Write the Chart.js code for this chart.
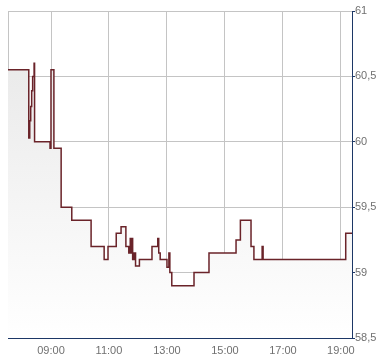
<!DOCTYPE html>
<html>
<head>
<meta charset="utf-8">
<title>Intraday</title>
<script src="https://cdn.jsdelivr.net/npm/chart.js@4.4.0/dist/chart.umd.min.js"></script>
<style>
    html, body { margin: 0; padding: 0; background: #ffffff; }
    #chartBox { width: 390px; height: 364px; }
</style>
</head>
<body>
<div id="chartBox"><canvas id="intradayChart" width="390" height="364"></canvas></div>
<script>
// DADOS
const horarios = ['07:31','08:14','08:16','08:18','08:20','08:22','08:25','08:26','08:58','09:00',
    '09:06','09:21','09:43','10:23','10:50','10:58','11:15','11:25','11:35','11:41',
    '11:44','11:45','11:48','11:49','11:52','11:55','12:03','12:29','12:41','12:43',
    '12:46','13:00','13:04','13:06','13:10','13:56','14:27','15:23','15:32','15:54',
    '16:00','16:17','16:19','19:10','19:23'];
const precos = [60.55, 60.03, 60.16, 60.27, 60.39, 60.5, 60.6, 60.0, 59.95, 60.55,
    59.95, 59.5, 59.4, 59.2, 59.1, 59.2, 59.3, 59.35, 59.2, 59.15,
    59.26, 59.15, 59.26, 59.1, 59.15, 59.05, 59.1, 59.2, 59.26, 59.15,
    59.1, 59.04, 59.15, 59.0, 58.9, 59.0, 59.15, 59.25, 59.4, 59.2,
    59.1, 59.2, 59.1, 59.3, 59.3];
const xTicks = ['09:00', '11:00', '13:00', '15:00', '17:00', '19:00'];
const xInicio = '07:31';
const xFim = '19:23';
const yTicks = [58.5, 59, 59.5, 60, 60.5, 61];

// "HH:MM" -> horas decimais
function toHours(hhmm) {
    const [h, m] = hhmm.split(':').map(Number);
    return h + m / 60;
}

function formatHour(v) {
    const h = Math.floor(v + 1e-6);
    const m = Math.round((v - h) * 60);
    return String(h).padStart(2, '0') + ':' + String(m).padStart(2, '0');
}

function fillGradient(context) {
    const area = context.chart.chartArea;
    if (!area) return '#eeeeee';
    const g = context.chart.ctx.createLinearGradient(0, area.top, 0, area.bottom);
    g.addColorStop(0, '#e6e6e6');
    g.addColorStop(1, '#ffffff');
    return g;
}

function createIntradayChart() {
    const ctx = document.getElementById('intradayChart').getContext('2d');
    const pontos = horarios.map((t, i) => ({ x: toHours(t), y: precos[i] }));
    const minX = toHours(xInicio);
    const maxX = toHours(xFim);

    window.intradayChartInstance = new Chart(ctx, {
        type: 'line',
        data: {
            datasets: [{
                data: pontos,
                stepped: true,
                borderColor: '#6a2329',
                borderWidth: 1.5,
                pointRadius: 0,
                tension: 0,
                fill: 'start',
                backgroundColor: fillGradient
            }]
        },
        options: {
            responsive: false,
            animation: false,
            devicePixelRatio: 1,
            layout: { padding: { left: 8, top: 11, right: 0, bottom: 0 } },
            plugins: {
                legend: { display: false },
                tooltip: { enabled: false }
            },
            scales: {
                x: {
                    type: 'linear',
                    min: minX,
                    max: maxX,
                    afterBuildTicks: scale => {
                        // borda esquerda + horas cheias
                        scale.ticks = [{ value: minX }].concat(xTicks.map(t => ({ value: toHours(t) })));
                    },
                    afterFit: scale => { scale.height = 26; },
                    grid: { color: '#c4c4c4', lineWidth: 1, drawTicks: false },
                    border: { color: '#1c3766', width: 1 },
                    ticks: {
                        color: '#707070',
                        font: { family: '"Liberation Sans", Arial, sans-serif', size: 11 },
                        padding: 6,
                        maxRotation: 0,
                        autoSkip: false,
                        callback: v => (v === minX ? '' : formatHour(v))
                    }
                },
                y: {
                    position: 'right',
                    min: 58.5,
                    max: 61,
                    afterBuildTicks: scale => {
                        scale.ticks = yTicks.map(v => ({ value: v }));
                    },
                    afterFit: scale => { scale.width = 38; },
                    grid: { color: '#c4c4c4', lineWidth: 1, tickColor: '#1c3766', tickLength: 3 },
                    border: { color: '#1c3766', width: 1 },
                    ticks: {
                        color: '#707070',
                        font: { family: '"Liberation Sans", Arial, sans-serif', size: 11 },
                        padding: 0,
                        callback: v => String(v).replace('.', ',')
                    }
                }
            }
        }
    });
}

createIntradayChart();
</script>
</body>
</html>
